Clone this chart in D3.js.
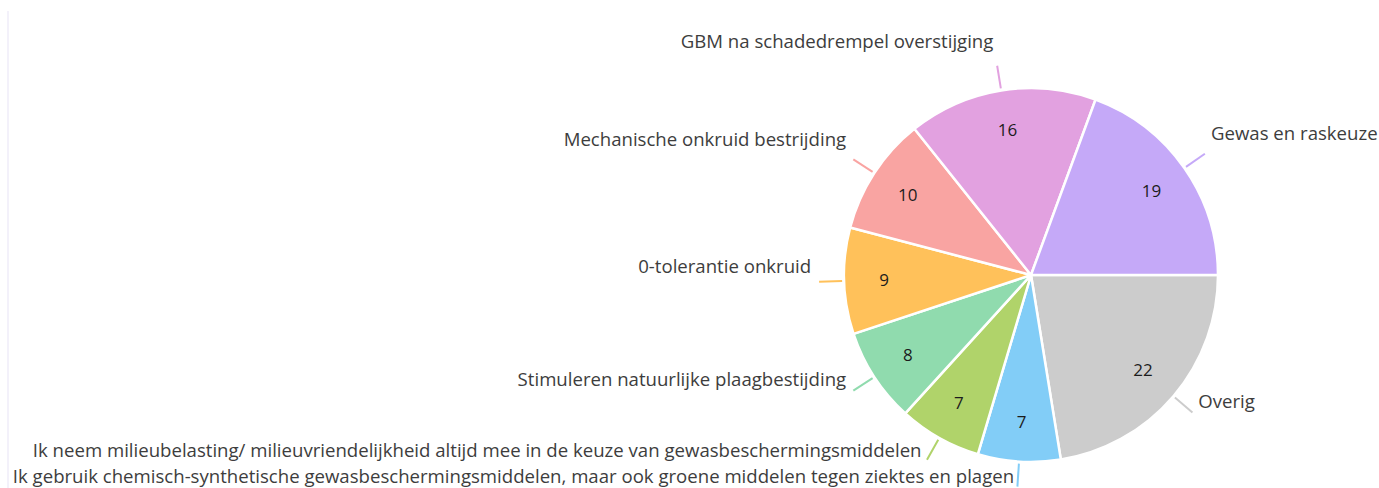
<!DOCTYPE html>
<html>
<head>
<meta charset="utf-8">
<script src="https://cdn.jsdelivr.net/npm/d3@7"></script>
<style>
    body { margin: 0; background: #fff; }
    svg { display: block; }
    .label { font-family: "Open Sans", sans-serif; font-size: 18.6px; fill: #3d3d3d; }
    .value { font-family: "Open Sans", sans-serif; font-size: 17px; fill: #1c1c1c; }
</style>
</head>
<body>
<svg></svg>
<script>
// data, clockwise from 3 o'clock
const categories = [
    "Overig",
    "Ik gebruik chemisch-synthetische gewasbeschermingsmiddelen, maar ook groene middelen tegen ziektes en plagen",
    "Ik neem milieubelasting/ milieuvriendelijkheid altijd mee in de keuze van gewasbeschermingsmiddelen",
    "Stimuleren natuurlijke plaagbestijding",
    "0-tolerantie onkruid",
    "Mechanische onkruid bestrijding",
    "GBM na schadedrempel overstijging",
    "Gewas en raskeuze"
]
const values = [22, 7, 7, 8, 9, 10, 16, 19]
const colors = ["#cccccc", "#82cdf7", "#b0d36a", "#90dbae", "#ffc15a", "#f9a4a2", "#e2a1e0", "#c5a9f8"]

let w = 1379,
    h = 488,
    cx = 1031,
    cy = 275,
    r = 187

let svg = d3.select("svg")
    .attr("width", w)
    .attr("height", h)

// faint card border on the left
svg.append("line")
    .attr("x1", 8).attr("x2", 8)
    .attr("y1", 11).attr("y2", h)
    .attr("stroke", "#efedf8")
    .attr("stroke-width", 1.5)

let rows = categories.map((c, i) => ({ name: c, value: values[i], color: colors[i] }))

let pie = d3.pie()
    .value(d => d.value)
    .sort(null)
    .startAngle(Math.PI / 2)
    .endAngle(Math.PI / 2 + 2 * Math.PI)

let arcs = pie(rows)

let arc = d3.arc().innerRadius(0).outerRadius(r)
let valueArc = d3.arc().innerRadius(147).outerRadius(147)
let tickIn = d3.arc().innerRadius(189).outerRadius(189)
let tickOut = d3.arc().innerRadius(212).outerRadius(212)

let g = svg.append("g").attr("transform", "translate(" + cx + "," + cy + ")")

g.selectAll("path.slice")
    .data(arcs)
    .enter().append("path")
    .attr("class", "slice")
    .attr("d", arc)
    .attr("fill", d => d.data.color)
    .attr("stroke", "#fff")
    .attr("stroke-width", 2.5)
    .attr("stroke-linejoin", "round")

g.selectAll("text.value")
    .data(arcs)
    .enter().append("text")
    .attr("class", "value")
    .attr("transform", d => "translate(" + valueArc.centroid(d) + ")")
    .attr("text-anchor", "middle")
    .attr("dy", "0.35em")
    .text(d => d.data.value)

g.selectAll("line.tick")
    .data(arcs)
    .enter().append("line")
    .attr("class", "tick")
    .attr("x1", d => tickIn.centroid(d)[0])
    .attr("y1", d => tickIn.centroid(d)[1])
    .attr("x2", d => tickOut.centroid(d)[0])
    .attr("y2", d => tickOut.centroid(d)[1])
    .attr("stroke", d => d.data.color)
    .attr("stroke-width", 2)

function midAngle(d) {
    return (d.startAngle + d.endAngle) / 2
}

g.selectAll("text.label")
    .data(arcs)
    .enter().append("text")
    .attr("class", "label")
    .attr("x", d => {
        let p = tickOut.centroid(d)
        let s = Math.sin(midAngle(d))
        return s > 0 ? p[0] + 2 + 5 * s : p[0] - 3 + 5 * s
    })
    .attr("y", d => {
        let p = tickOut.centroid(d)
        let y = p[1] - 16 - 8 * Math.cos(midAngle(d))
        // keep descenders inside the picture
        return Math.min(y, h - cy - 12)
    })
    .attr("dy", "0.35em")
    .attr("text-anchor", d => Math.sin(midAngle(d)) > 0 ? "start" : "end")
    .text(d => d.data.name)
</script>
</body>
</html>
